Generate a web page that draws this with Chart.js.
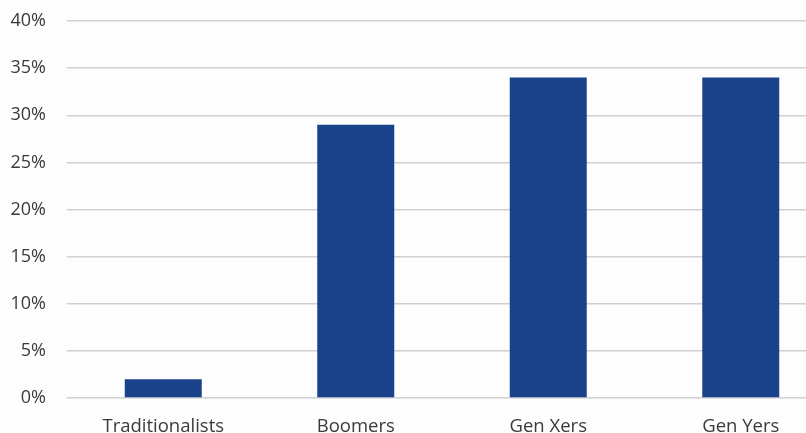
<!DOCTYPE html>
<html>
<head>
<meta charset="utf-8">
<script src="https://cdn.jsdelivr.net/npm/chart.js@4.4.1/dist/chart.umd.min.js"></script>
<style>
  html, body { margin: 0; padding: 0; overflow: hidden; background: #fdfdfd; }
  #chart { display: block; }
</style>
</head>
<body>
<canvas id="chart" width="837" height="433"></canvas>
<script>
// categories and values (percent)
const categories = ['Traditionalists', 'Boomers', 'Gen Xers', 'Gen Yers'];
const shares = [2, 29, 34, 34];
const yTicks = [0, 5, 10, 15, 20, 25, 30, 35, 40];

const ctx = document.getElementById('chart').getContext('2d');

new Chart(ctx, {
  type: 'bar',
  data: {
    labels: categories,
    datasets: [{
      data: shares,
      backgroundColor: '#1a428a',
      borderWidth: 0,
      categoryPercentage: 1,
      barPercentage: 0.4
    }]
  },
  options: {
    responsive: false,
    animation: false,
    layout: { padding: { top: 21, right: 0, bottom: 0, left: 0 } },
    plugins: {
      legend: { display: false },
      tooltip: { enabled: false }
    },
    scales: {
      x: {
        grid: { display: false, drawTicks: false },
        border: { display: false },
        ticks: {
          color: '#3a3a3a',
          font: { family: 'Open Sans', size: 18.5 },
          padding: 18,
          maxRotation: 0
        },
        afterFit: (scale) => { scale.height = 35; }
      },
      y: {
        min: 0,
        max: 40,
        afterBuildTicks: (scale) => { scale.ticks = yTicks.map(v => ({ value: v })); },
        grid: { color: '#d0d0d0', lineWidth: 1.5, drawTicks: false },
        border: { display: false },
        ticks: {
          color: '#3a3a3a',
          font: { family: 'Open Sans', size: 18 },
          padding: 21,
          callback: (v) => v + '%'
        },
        afterFit: (scale) => {
          scale.width = 67;
          scale.paddingTop = 0;
          scale.paddingBottom = 0;
        }
      }
    }
  }
});
</script>
</body>
</html>
